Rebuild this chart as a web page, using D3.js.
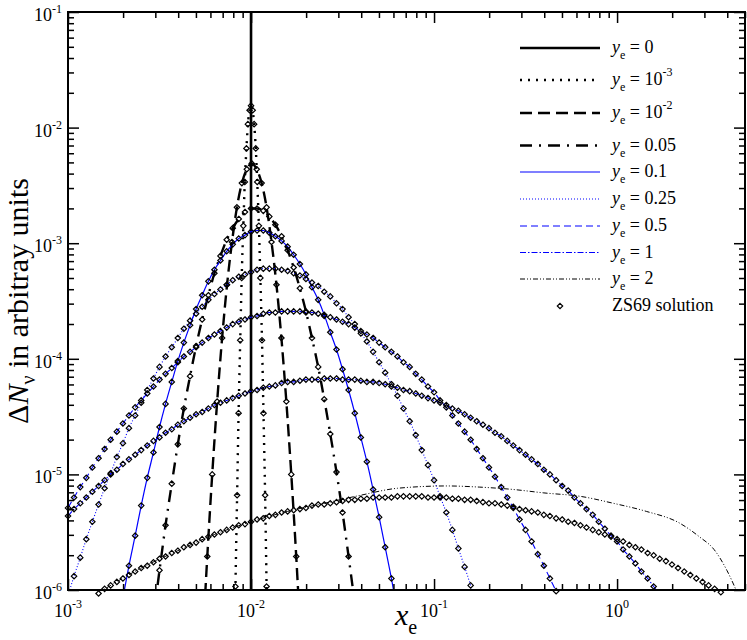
<!DOCTYPE html>
<html><head><meta charset="utf-8">
<script src="https://cdn.jsdelivr.net/npm/d3@7"></script>
<style>
html,body{margin:0;padding:0;background:#fff;}
svg{display:block;}
text{font-family:"Liberation Serif","Times New Roman",serif;fill:#000;}
</style>
</head><body>
<svg id="chart" width="747" height="640"></svg>
<script>
// ---------------- DATA (log10 values) ----------------
// tick decades
const xTickExp = [-3, -2, -1, 0];
const yTickExp = [-6, -5, -4, -3, -2, -1];
const minorMult = [2, 3, 4, 5, 6, 7, 8, 9];

// common log10(x_e) grid of the broad ZS69 / numerical curves
const gridLogX = [
 -3.000,-2.967,-2.933,-2.900,-2.867,-2.833,-2.800,-2.767,-2.733,-2.700,
 -2.667,-2.633,-2.600,-2.567,-2.533,-2.500,-2.467,-2.433,-2.400,-2.367,
 -2.333,-2.300,-2.267,-2.233,-2.200,-2.167,-2.133,-2.100,-2.067,-2.033,
 -2.000,-1.967,-1.933,-1.900,-1.867,-1.833,-1.800,-1.767,-1.733,-1.700,
 -1.667,-1.633,-1.600,-1.567,-1.533,-1.500,-1.467,-1.433,-1.400,-1.367,
 -1.333,-1.300,-1.267,-1.233,-1.200,-1.167,-1.133,-1.100,-1.067,-1.033,
 -1.000,-0.967,-0.933,-0.900,-0.867,-0.833,-0.800,-0.767,-0.733,-0.700,
 -0.667,-0.633,-0.600,-0.567,-0.533,-0.500,-0.467,-0.433,-0.400,-0.367,
 -0.333,-0.300,-0.267,-0.233,-0.200,-0.167,-0.133,-0.100,-0.067,-0.033,
  0.000, 0.033, 0.067, 0.100, 0.133, 0.167, 0.200, 0.233, 0.267, 0.300,
  0.333, 0.367, 0.400, 0.433, 0.467, 0.500, 0.533, 0.567
];

// y_e = 0 : delta line position
const ye0X = 0.01;

// y_e = 1e-3 (own x points)
const ye1e3LogX = [-2.093,-2.085,-2.076,-2.068,-2.059,-2.051,-2.042,-2.034,-2.025,-2.017,-2.008,-2.000,
                   -1.991,-1.983,-1.974,-1.966,-1.957,-1.949,-1.940,-1.932,-1.923,-1.915,-1.906];
const ye1e3LogY = [-6.84,-5.97,-5.18,-4.47,-3.84,-3.30,-2.85,-2.47,-2.18,-1.97,-1.85,-1.81,
                   -1.85,-1.97,-2.18,-2.47,-2.85,-3.30,-3.84,-4.47,-5.18,-5.97,-6.84];

// y_e = 1e-2 (own x points)
const ye1e2LogX = [-2.266,-2.239,-2.212,-2.185,-2.158,-2.131,-2.104,-2.077,-2.050,-2.023,-1.996,
                   -1.969,-1.942,-1.915,-1.888,-1.861,-1.834,-1.807,-1.780,-1.753,-1.726];
const ye1e2LogY = [-6.51,-5.71,-5.00,-4.37,-3.82,-3.36,-2.99,-2.69,-2.48,-2.36,-2.31,
                   -2.36,-2.48,-2.69,-2.99,-3.36,-3.82,-4.37,-5.00,-5.71,-6.51];

// broad curves on the common grid (first grid index + values)
const ye005Start = 13;
const ye005LogY = [-6.68,-6.24,-5.83,-5.44,-5.08,-4.74,-4.43,-4.15,-3.89,-3.66,-3.45,-3.26,-3.11,-2.97,-2.87,-2.79,-2.73,-2.70,
 -2.70,-2.72,-2.77,-2.84,-2.94,-3.06,-3.21,-3.39,-3.59,-3.82,-4.07,-4.35,-4.65,-4.98,-5.33,-5.71,-6.12,-6.55];

const ye01Start = 8;
const ye01LogY = [-6.36,-6.07,-5.79,-5.53,-5.27,-5.03,-4.81,-4.59,-4.39,-4.20,-4.02,-3.86,-3.71,-3.57,-3.45,-3.33,
 -3.23,-3.15,-3.07,-3.01,-2.96,-2.93,-2.90,-2.89,-2.89,-2.91,-2.94,-2.98,-3.03,-3.10,-3.18,-3.27,
 -3.38,-3.49,-3.62,-3.77,-3.92,-4.09,-4.27,-4.47,-4.68,-4.89,-5.13,-5.37,-5.63,-5.90,-6.19,-6.48];

const ye025Start = 0;
const ye025LogY = [-6.05,-5.88,-5.72,-5.56,-5.41,-5.26,-5.12,-4.99,-4.85,-4.73,
 -4.60,-4.49,-4.38,-4.27,-4.17,-4.07,-3.98,-3.90,-3.82,-3.74,
 -3.67,-3.61,-3.55,-3.49,-3.44,-3.40,-3.36,-3.32,-3.29,-3.27,
 -3.25,-3.23,-3.22,-3.22,-3.22,-3.23,-3.24,-3.26,-3.28,-3.31,
 -3.34,-3.37,-3.42,-3.46,-3.52,-3.57,-3.64,-3.70,-3.78,-3.85,
 -3.94,-4.03,-4.12,-4.22,-4.32,-4.43,-4.54,-4.66,-4.79,-4.92,
 -5.05,-5.19,-5.33,-5.48,-5.64,-5.80,-5.96,-6.13,-6.31];

const ye05Start = 0;
const ye05LogY = [-5.29,-5.20,-5.11,-5.03,-4.94,-4.86,-4.78,-4.70,-4.63,-4.56,
 -4.49,-4.42,-4.36,-4.30,-4.24,-4.18,-4.13,-4.08,-4.03,-3.98,
 -3.94,-3.90,-3.86,-3.82,-3.79,-3.76,-3.73,-3.70,-3.68,-3.66,
 -3.64,-3.63,-3.61,-3.60,-3.60,-3.59,-3.59,-3.59,-3.59,-3.60,
 -3.60,-3.61,-3.63,-3.64,-3.66,-3.68,-3.70,-3.73,-3.76,-3.79,
 -3.82,-3.86,-3.90,-3.94,-3.98,-4.03,-4.07,-4.13,-4.18,-4.24,
 -4.29,-4.36,-4.42,-4.49,-4.56,-4.63,-4.70,-4.78,-4.86,-4.94,
 -5.02,-5.11,-5.20,-5.29,-5.39,-5.48,-5.58,-5.69,-5.79,-5.90,
 -6.01,-6.12,-6.24,-6.35];

const ye1Start = 0;
const ye1LogY = [-5.36,-5.30,-5.25,-5.20,-5.15,-5.10,-5.05,-5.00,-4.96,-4.91,
 -4.87,-4.83,-4.79,-4.75,-4.71,-4.68,-4.64,-4.61,-4.57,-4.54,
 -4.51,-4.48,-4.46,-4.43,-4.40,-4.38,-4.36,-4.34,-4.32,-4.30,
 -4.28,-4.27,-4.25,-4.24,-4.23,-4.21,-4.20,-4.20,-4.19,-4.18,
 -4.18,-4.18,-4.17,-4.17,-4.17,-4.18,-4.18,-4.18,-4.19,-4.20,
 -4.20,-4.21,-4.22,-4.24,-4.25,-4.27,-4.28,-4.30,-4.32,-4.34,
 -4.36,-4.38,-4.40,-4.43,-4.45,-4.48,-4.51,-4.54,-4.57,-4.60,
 -4.64,-4.67,-4.71,-4.75,-4.79,-4.83,-4.87,-4.91,-4.96,-5.00,
 -5.05,-5.10,-5.14,-5.20,-5.25,-5.30,-5.35,-5.41,-5.47,-5.53,
 -5.58,-5.65,-5.71,-5.77,-5.84,-5.90,-5.97,-6.04,-6.11,-6.18,
 -6.25,-6.32];

// ZS69 solution for y_e = 2 (on grid)
const zs2Start = 5;
const zs2LogY = [-6.03,-5.99,-5.96,-5.93,-5.90,
 -5.87,-5.84,-5.81,-5.79,-5.76,-5.73,-5.71,-5.68,-5.66,-5.63,
 -5.61,-5.59,-5.56,-5.54,-5.52,-5.50,-5.48,-5.46,-5.44,-5.43,
 -5.41,-5.39,-5.38,-5.36,-5.35,-5.33,-5.32,-5.31,-5.30,-5.29,
 -5.27,-5.26,-5.26,-5.25,-5.24,-5.23,-5.22,-5.22,-5.21,-5.21,
 -5.20,-5.20,-5.20,-5.20,-5.19,-5.19,-5.19,-5.19,-5.19,-5.20,
 -5.20,-5.20,-5.20,-5.21,-5.21,-5.22,-5.22,-5.23,-5.24,-5.25,
 -5.25,-5.26,-5.27,-5.28,-5.30,-5.31,-5.32,-5.33,-5.35,-5.36,
 -5.38,-5.39,-5.41,-5.42,-5.44,-5.46,-5.48,-5.50,-5.52,-5.54,
 -5.56,-5.58,-5.61,-5.63,-5.65,-5.68,-5.70,-5.73,-5.75,-5.78,
 -5.81,-5.84,-5.87,-5.90,-5.93,-5.96,-5.99,-6.02];

// numerical curve for y_e = 2 (differs from ZS69 at high x)
const ye2LineLogX = [-2.85,-2.60,-2.40,-2.20,-2.00,-1.80,-1.60,-1.40,-1.20,-0.93,-0.75,-0.57,-0.40,-0.20,-0.02,0.16,0.34,0.45,0.53,0.60,0.65,0.70];
const ye2LineLogY = [-6.04,-5.81,-5.66,-5.52,-5.41,-5.32,-5.25,-5.18,-5.12,-5.10,-5.11,-5.13,-5.16,-5.19,-5.25,-5.32,-5.42,-5.54,-5.65,-5.83,-6.00,-6.20];

// ---------------- CHART ----------------
const svg = d3.select("#chart");
const m = {left: 68, right: 745, top: 12, bottom: 590};
const x = d3.scaleLog().domain([1e-3, 5]).range([m.left, m.right]);
const y = d3.scaleLog().domain([1e-6, 1e-1]).range([m.bottom, m.top]);
const p10 = v => Math.pow(10, v);

const gridSeries = (start, vals) => vals.map((v, i) => [p10(gridLogX[start + i]), p10(v)]);
const pairSeries = (xs, ys) => xs.map((v, i) => [p10(v), p10(ys[i])]);

const ser1e3 = pairSeries(ye1e3LogX, ye1e3LogY);
const ser1e2 = pairSeries(ye1e2LogX, ye1e2LogY);
const ser005 = gridSeries(ye005Start, ye005LogY);
const ser01  = gridSeries(ye01Start, ye01LogY);
const ser025 = gridSeries(ye025Start, ye025LogY);
const ser05  = gridSeries(ye05Start, ye05LogY);
const ser1   = gridSeries(ye1Start, ye1LogY);
const serZs2 = gridSeries(zs2Start, zs2LogY);
const ser2Line = pairSeries(ye2LineLogX, ye2LineLogY);

const styles = {
  s0:   {stroke: "#000", w: 2.6, dash: null},
  s1e3: {stroke: "#000", w: 2.4, dash: "2,6"},
  s1e2: {stroke: "#000", w: 2.4, dash: "12,6"},
  s005: {stroke: "#000", w: 2.4, dash: "12,7,2,7"},
  s01:  {stroke: "#0000ff", w: 1.2, dash: null},
  s025: {stroke: "#0000ff", w: 1.1, dash: "1,2"},
  s05:  {stroke: "#0000ff", w: 1.1, dash: "7,4"},
  s1:   {stroke: "#0000ff", w: 1.1, dash: "6,2,1.5,2"},
  s2:   {stroke: "#000", w: 1.0, dash: "5,2,1,2,1,2"}
};

// clip
svg.append("defs").append("clipPath").attr("id", "plotclip")
  .append("rect").attr("x", m.left).attr("y", m.top)
  .attr("width", m.right - m.left).attr("height", m.bottom - m.top);

const gLines = svg.append("g").attr("clip-path", "url(#plotclip)");
const line = d3.line().x(d => x(d[0])).y(d => y(d[1])).curve(d3.curveMonotoneX);

function drawLine(data, st) {
  const p = gLines.append("path").datum(data).attr("d", line)
    .attr("fill", "none").attr("stroke", st.stroke).attr("stroke-width", st.w);
  if (st.dash) p.attr("stroke-dasharray", st.dash);
}

// y_e = 0 vertical line
gLines.append("line").attr("x1", x(ye0X)).attr("x2", x(ye0X))
  .attr("y1", y(1e-1)).attr("y2", y(1e-6))
  .attr("stroke", styles.s0.stroke).attr("stroke-width", styles.s0.w);

drawLine(ser1e3, styles.s1e3);
drawLine(ser1e2, styles.s1e2);
drawLine(ser005, styles.s005);
drawLine(ser01, styles.s01);
drawLine(ser025, styles.s025);
drawLine(ser05, styles.s05);
drawLine(ser1, styles.s1);
drawLine(ser2Line, styles.s2);

// ZS69 diamonds
const diamond = r => `M0,${-r}L${r},0L0,${r}L${-r},0Z`;
const zsAll = [].concat(ser1e3, ser1e2, ser005, ser01, ser025, ser05, ser1, serZs2)
  .filter(d => d[1] >= p10(-6.03) && d[0] >= 1e-3 && d[0] <= 5);
svg.append("g").selectAll("path").data(zsAll).join("path")
  .attr("transform", d => `translate(${x(d[0])},${y(d[1])})`)
  .attr("d", diamond(2.7))
  .attr("fill", "none").attr("stroke", "#000").attr("stroke-width", 1.2);

// axes ticks (inward, all four sides)
const xMajor = xTickExp.map(p10);
const yMajor = yTickExp.map(p10);
const xMinor = [];
xTickExp.forEach(e => minorMult.forEach(k => { const v = k * p10(e); if (v <= 5) xMinor.push(v); }));
const yMinor = [];
yTickExp.slice(0, -1).forEach(e => minorMult.forEach(k => yMinor.push(k * p10(e))));

function ticks(axisFn, scale, vals, size, tr) {
  svg.append("g").attr("transform", tr)
    .call(axisFn(scale).tickValues(vals).tickSize(size).tickFormat(() => ""))
    .call(g => g.select(".domain").remove())
    .call(g => g.selectAll("line").attr("stroke", "#000").attr("stroke-width", 1.5));
}
ticks(d3.axisBottom, x, xMajor, -11, `translate(0,${m.bottom})`);
ticks(d3.axisBottom, x, xMinor, -6, `translate(0,${m.bottom})`);
ticks(d3.axisTop, x, xMajor, -11, `translate(0,${m.top})`);
ticks(d3.axisTop, x, xMinor, -6, `translate(0,${m.top})`);
ticks(d3.axisLeft, y, yMajor, -11, `translate(${m.left},0)`);
ticks(d3.axisLeft, y, yMinor, -6, `translate(${m.left},0)`);
ticks(d3.axisRight, y, yMajor, -11, `translate(${m.right},0)`);
ticks(d3.axisRight, y, yMinor, -6, `translate(${m.right},0)`);

// frame
svg.append("rect").attr("x", m.left).attr("y", m.top)
  .attr("width", m.right - m.left).attr("height", m.bottom - m.top)
  .attr("fill", "none").attr("stroke", "#000").attr("stroke-width", 2);

// tick labels
xTickExp.forEach(e => {
  const t = svg.append("text").attr("x", x(p10(e))).attr("y", 617)
    .attr("text-anchor", "middle").attr("font-size", 18);
  t.append("tspan").text("10");
  t.append("tspan").attr("font-size", 12).attr("dy", -9).text(String(e));
});
yTickExp.forEach(e => {
  const t = svg.append("text").attr("x", 62).attr("y", y(p10(e)) + 9)
    .attr("text-anchor", "end").attr("font-size", 18);
  t.append("tspan").text("10");
  t.append("tspan").attr("font-size", 12).attr("dy", -8).text(String(e));
});

// axis titles
const xt = svg.append("text").attr("x", 406).attr("y", 625)
  .attr("text-anchor", "middle").attr("font-size", 30);
xt.append("tspan").attr("font-style", "italic").text("x");
xt.append("tspan").attr("font-size", 20).attr("dy", 9).text("e");

const yt = svg.append("text").attr("transform", "translate(28,301) rotate(-90)")
  .attr("text-anchor", "middle").attr("font-size", 30);
yt.append("tspan").text("\u0394");
yt.append("tspan").attr("font-style", "italic").text("N");
yt.append("tspan").attr("font-size", 20).attr("dy", 7).text("\u03bd");
yt.append("tspan").attr("dy", -7).text(" in arbitray units");

// legend
const legendRows = [
  {ly: 48,    st: styles.s0,   val: " = 0",    sup: null},
  {ly: 80,    st: styles.s1e3, val: " = 10",   sup: "-3"},
  {ly: 113,   st: styles.s1e2, val: " = 10",   sup: "-2"},
  {ly: 145.5, st: styles.s005, val: " = 0.05", sup: null},
  {ly: 172,   st: styles.s01,  val: " = 0.1",  sup: null},
  {ly: 199,   st: styles.s025, val: " = 0.25", sup: null},
  {ly: 226,   st: styles.s05,  val: " = 0.5",  sup: null},
  {ly: 252.5, st: styles.s1,   val: " = 1",    sup: null},
  {ly: 279,   st: styles.s2,   val: " = 2",    sup: null}
];
const lg = svg.append("g");
legendRows.forEach(r => {
  const l = lg.append("line").attr("x1", 520).attr("x2", 600).attr("y1", r.ly).attr("y2", r.ly)
    .attr("stroke", r.st.stroke).attr("stroke-width", r.st.w);
  if (r.st.dash) l.attr("stroke-dasharray", r.st.dash);
  const t = lg.append("text").attr("x", 612).attr("y", r.ly + 5).attr("font-size", 18);
  t.append("tspan").attr("font-style", "italic").text("y");
  t.append("tspan").attr("font-size", 12).attr("dy", 6).text("e");
  t.append("tspan").attr("dy", -6).text(r.val);
  if (r.sup) t.append("tspan").attr("font-size", 12).attr("dy", -9).text(r.sup);
});
lg.append("path").attr("transform", "translate(560,306)").attr("d", diamond(2.7))
  .attr("fill", "none").attr("stroke", "#000").attr("stroke-width", 1.2);
lg.append("text").attr("x", 612).attr("y", 311).attr("font-size", 18).text("ZS69 solution");
</script>
</body></html>
